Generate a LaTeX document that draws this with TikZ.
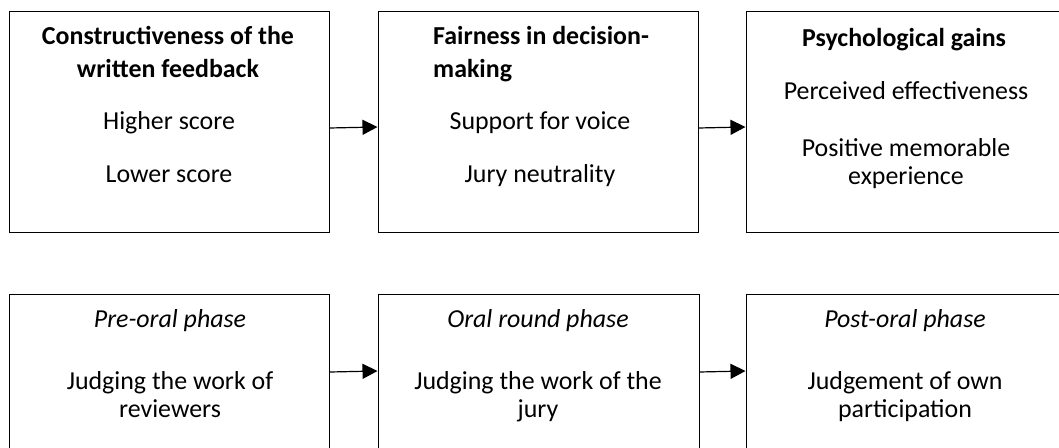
\documentclass[tikz,border=0pt]{standalone}
\usepackage{fontspec}
\setmainfont{Carlito}
\usetikzlibrary{arrows.meta}
\begin{document}
\begin{tikzpicture}[x=1bp,y=-1bp,
  box/.style={draw=black,line width=1bp,minimum width=319bp,minimum height=221bp,inner sep=0pt},
  txt/.style={anchor=base,inner sep=0pt,font=\fontsize{26}{30}\selectfont},
  ttl/.style={txt,font=\fontsize{26}{30}\selectfont\bfseries},
  itl/.style={txt,font=\fontsize{26}{30}\selectfont\itshape},
  arr/.style={-{Triangle[length=15bp,width=15bp]},line width=1.2bp}]
\useasboundingbox (0,0) rectangle (1059,448);
\node[box] (b1) at (169.5,122.5) {};
\node[box,minimum width=320bp] (b2) at (538,122.5) {};
\node[box] (b3) at (905.5,122.5) {};
\node[box,minimum width=320bp] (p1) at (169.5,405.5) {};
\node[box,minimum width=321bp] (p2) at (538.5,405.5) {};
\node[box] (p3) at (905.5,405.5) {};
% top row texts
\node[ttl] (t1a) at (168,45) {Constructiveness of the};
\node[ttl] (t1b) at (168,78) {written feedback};
\node[txt] (t1c) at (169,130) {Higher score};
\node[txt] (t1d) at (169,183) {Lower score};
\node[ttl,anchor=base west] (t2a) at (433,45) {Fairness in decision-};
\node[ttl,anchor=base west] (t2b) at (433,78) {making};
\node[txt] (t2c) at (540,130) {Support for voice};
\node[txt] (t2d) at (540,183) {Jury neutrality};
\node[ttl] (t3a) at (904,47) {Psychological gains};
\node[txt] (t3b) at (906,100) {Perceived effectiveness};
\node[txt] (t3c) at (906,157) {Positive memorable};
\node[txt] (t3d) at (906,185) {experience};
% bottom row texts
\node[itl] (q1a) at (170,328) {Pre-oral phase};
\node[txt] (q1b) at (170,390) {Judging the work of};
\node[txt] (q1c) at (170,418) {reviewers};
\node[itl] (q2a) at (538,328) {Oral round phase};
\node[txt] (q2b) at (538,390) {Judging the work of the};
\node[txt] (q2c) at (538,418) {jury};
\node[itl] (q3a) at (905,328) {Post-oral phase};
\node[txt] (q3b) at (905,390) {Judgement of own};
\node[txt] (q3c) at (905,418) {participation};
% arrows
\draw[arr] ([yshift=-5.5bp]b1.east) -- ([yshift=-4.5bp]b2.west);
\draw[arr] ([yshift=-5.5bp]b2.east) -- ([yshift=-4.5bp]b3.west);
\draw[arr] ([yshift=33.5bp]p1.east) -- ([yshift=34.5bp]p2.west);
\draw[arr] ([yshift=33.5bp]p2.east) -- ([yshift=34.5bp]p3.west);
\end{tikzpicture}
\end{document}
